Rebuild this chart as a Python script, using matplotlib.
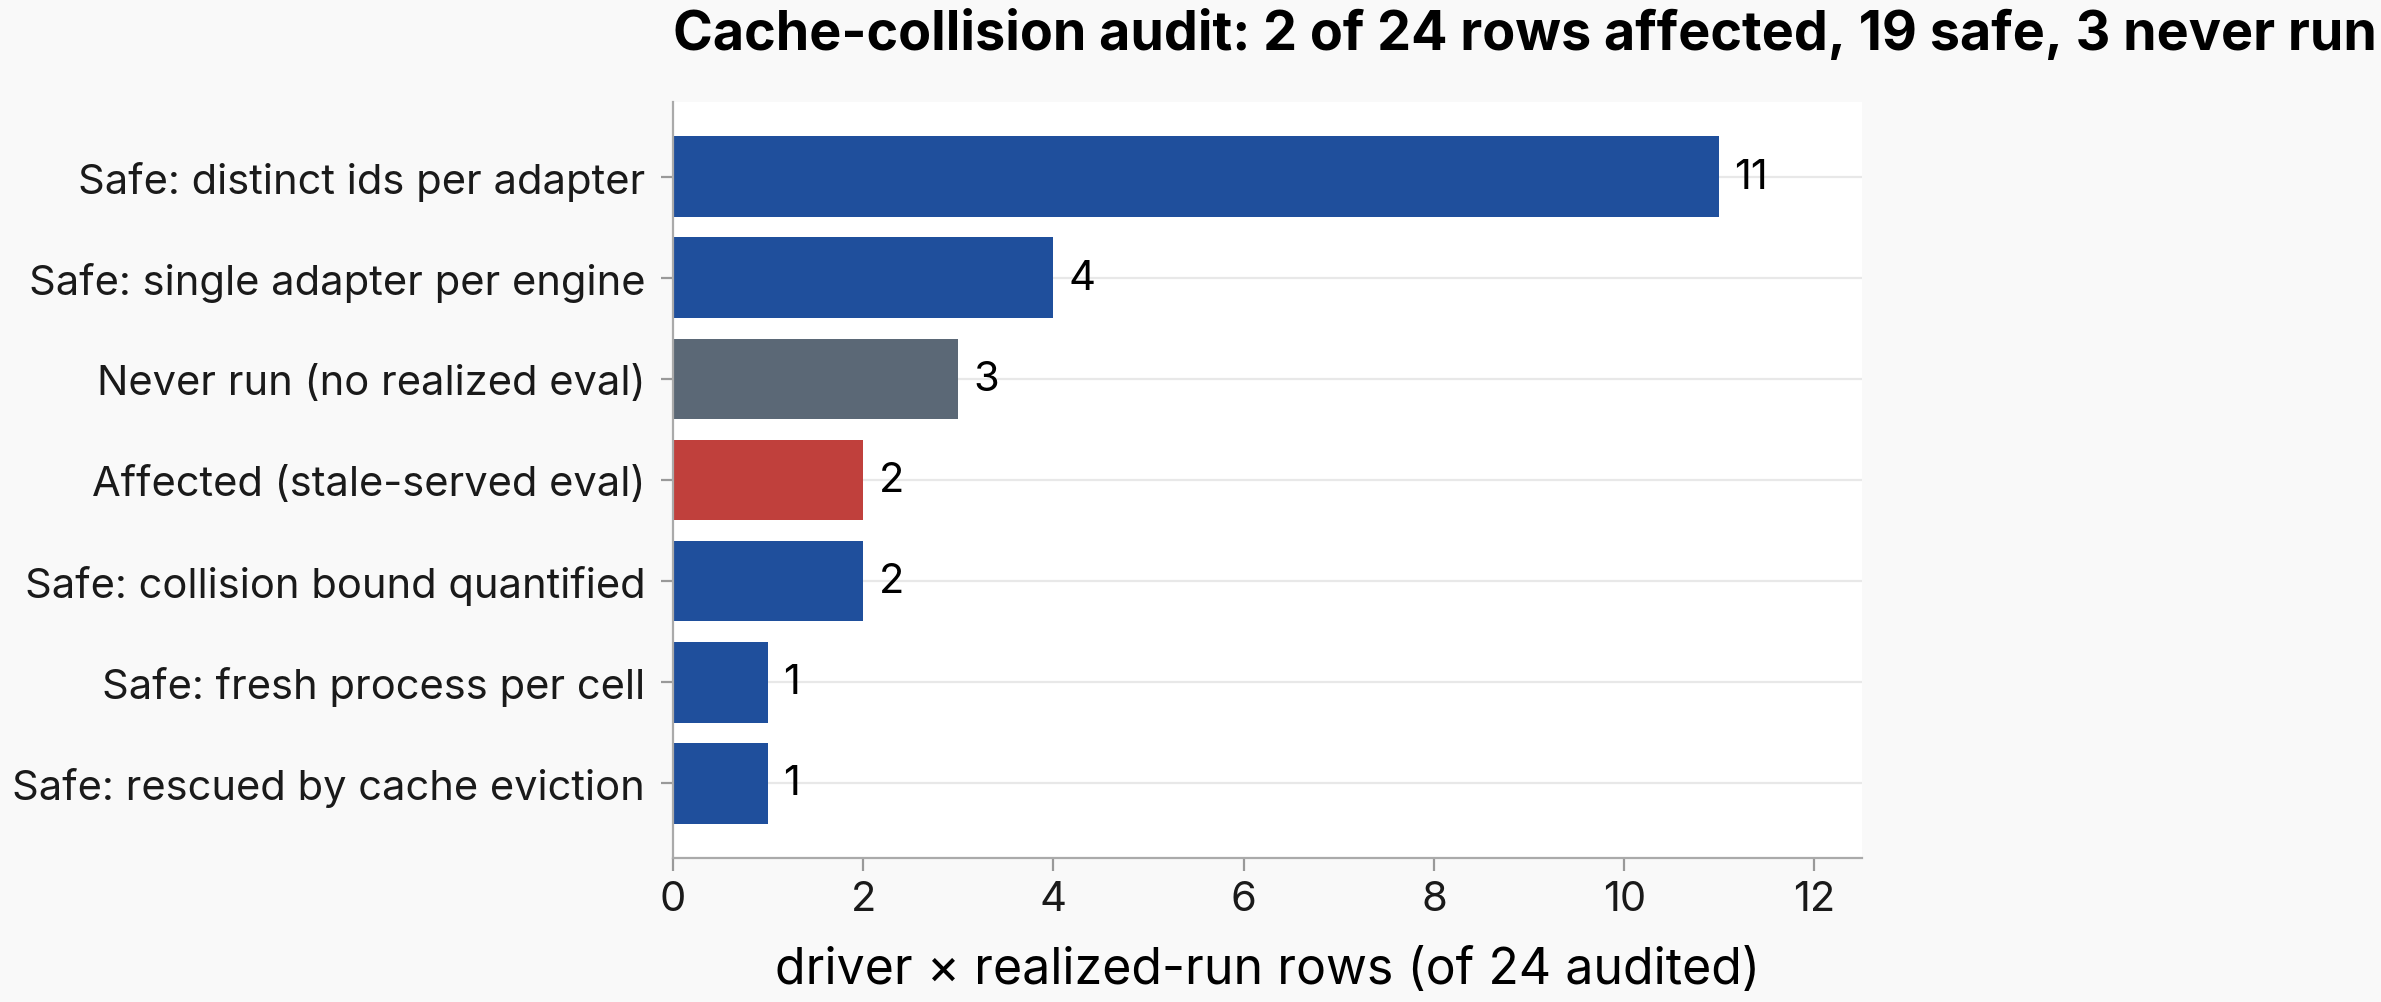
import numpy as np
import matplotlib.pyplot as plt

plt.rcParams['font.family'] = ['Inter', 'DejaVu Sans']

categories = ['Safe: distinct ids per adapter',
              'Safe: single adapter per engine',
              'Never run (no realized eval)',
              'Affected (stale-served eval)',
              'Safe: collision bound quantified',
              'Safe: fresh process per cell',
              'Safe: rescued by cache eviction']
counts = [11, 4, 3, 2, 2, 1, 1]
groups = ['safe', 'safe', 'never', 'affected', 'safe', 'safe', 'safe']

colors = {'safe': '#1f4f9c', 'never': '#5b6876', 'affected': '#c0403c'}

fig = plt.figure(figsize=(11.905, 5.015), dpi=200, facecolor='#f9f9f9')
ax = fig.add_axes([673/2381, 1 - 859/1003, (1862-673)/2381, (859-103)/1003])
ax.set_facecolor('white')

y = np.arange(len(categories))
ax.barh(y, counts, height=0.8, color=[colors[g] for g in groups], zorder=2)
for yi, c in zip(y, counts):
    ax.text(c + 0.16, yi, str(c), va='center', ha='left', fontsize=15, color='black')

ax.set_yticks(y)
ax.set_yticklabels(categories)
ax.invert_yaxis()
ax.set_xlim(0, 12.5)
ax.set_xticks(range(0, 13, 2))
ax.grid(axis='y', color='#e8e8e8', linewidth=0.8, zorder=0)
ax.tick_params(axis='both', labelsize=15, colors='#999999', labelcolor='#1a1a1a', length=4.5)
ax.tick_params(axis='y', pad=5.5)
for s in ['top', 'right']:
    ax.spines[s].set_visible(False)
for s in ['left', 'bottom']:
    ax.spines[s].set_color('#aaaaaa')

ax.set_xlabel('driver × realized-run rows (of 24 audited)', fontsize=18, labelpad=10)
ax.set_title('Cache-collision audit: 2 of 24 rows affected, 19 safe, 3 never run',
             loc='left', fontsize=19.4, fontweight='bold', pad=19)

fig.savefig('out.png', dpi=200, facecolor=fig.get_facecolor())
